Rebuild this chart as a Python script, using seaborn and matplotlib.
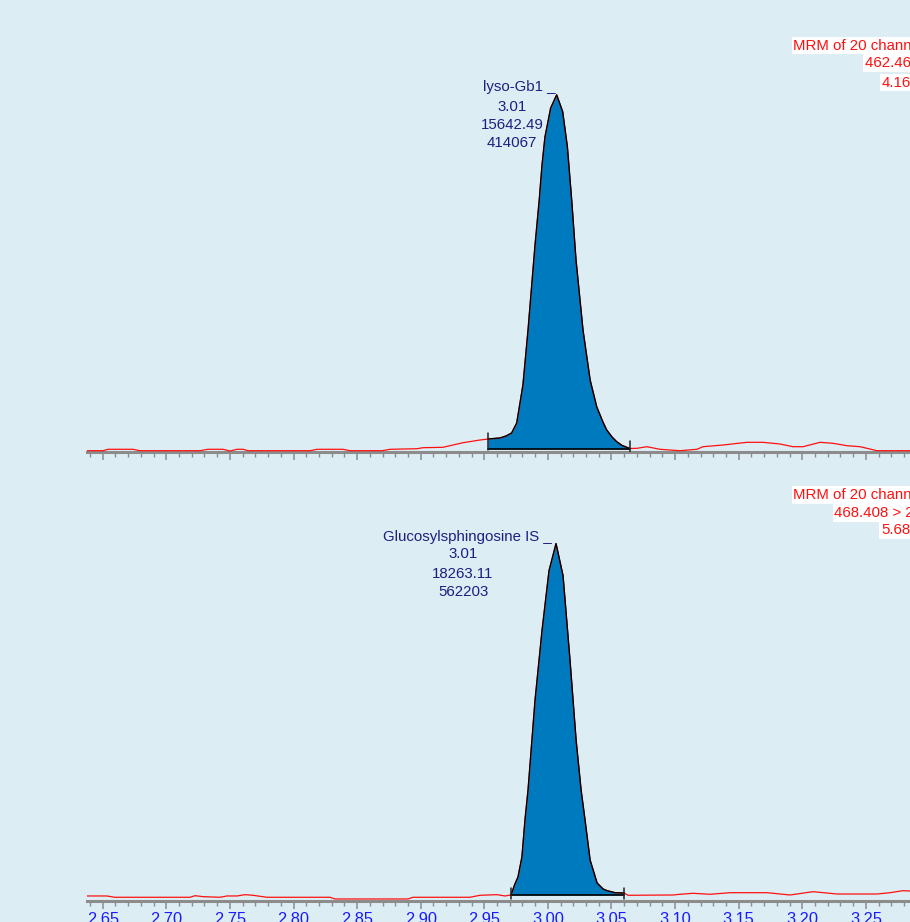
import numpy as np
import pandas as pd
import matplotlib
matplotlib.use("Agg")
import matplotlib.pyplot as plt
import seaborn as sns
from matplotlib.ticker import MultipleLocator, FixedLocator, FixedFormatter

sns.set_theme(style="white")
plt.rcParams['font.family'] = ['Liberation Sans', 'DejaVu Sans']

# ---------------- data (retention time in min, relative intensity in %) -------------
top_time = [2.6374, 2.6502, 2.6542, 2.6738, 2.6793, 2.7265, 2.7327, 2.7446, 2.7501,
            2.7556, 2.7604, 2.7643, 2.8130, 2.8185, 2.8389, 2.8444, 2.8696, 2.8759,
            2.8971, 2.9018, 2.9175, 2.9333, 2.9466,
            2.9529, 2.9623, 2.9671, 2.9715, 2.9755, 2.9804, 2.9844, 2.9899, 2.9932,
            2.9954, 2.9977, 3.0022, 3.0069, 3.0116, 3.0153, 3.0187, 3.0221, 3.0276,
            3.0332, 3.0384, 3.0433, 3.0462, 3.0504, 3.0541, 3.0583, 3.0620, 3.0645,
            3.0701, 3.0779, 3.0881, 3.1039, 3.1172, 3.1219, 3.1377, 3.1565, 3.1691,
            3.1825, 3.1927, 3.2006, 3.2140, 3.2242, 3.2352, 3.2455, 3.2588, 3.2847]
top_intensity = [-0.48, -0.48, -0.08, -0.08, -0.48, -0.48, -0.08, -0.08, -0.56,
                 -0.08, -0.08, -0.48, -0.48, -0.08, -0.08, -0.48, -0.48, -0.08,
                 0.08, 0.37, 0.48, 1.78, 2.54,
                 2.82, 3.11, 3.67, 4.52, 7.34, 18.1, 33.6, 57.6, 70.3,
                 80.2, 88.1, 96.3, 100.0, 95.3, 85.4, 70.3, 53.4, 33.6,
                 19.5, 11.9, 7.6, 5.4, 3.4, 2.06, 1.0, 0.48, 0.14,
                 0.2, 0.65, -0.08, -0.48, -0.08, 0.65, 1.13, 1.89, 1.89,
                 1.41, 0.65, 0.65, 1.89, 1.61, 0.93, 0.65, -0.48, -0.48]

bot_time = [2.6374, 2.6531, 2.6597, 2.7186, 2.7226, 2.7289, 2.7422, 2.7477, 2.7556,
            2.7619, 2.7682, 2.7792, 2.8287, 2.8326, 2.8900, 2.8939, 2.9387, 2.9466,
            2.9600, 2.9663,
            2.9710, 2.9741, 2.9765, 2.9796, 2.9820, 2.9844, 2.9899, 2.9954, 3.0009,
            3.0064, 3.0119, 3.0174, 3.0222, 3.0261, 3.0292, 3.0332, 3.0387, 3.0434,
            3.0465, 3.0528, 3.0599,
            3.0630, 3.0984, 3.1039, 3.1141, 3.1275, 3.1432, 3.1723, 3.1904, 3.2085,
            3.2273, 3.2588, 3.2690, 3.2792, 3.2847]
bot_intensity = [-0.28, -0.28, -0.65, -0.65, -0.20, -0.48, -0.65, -0.28, -0.28,
                 0.09, -0.09, -0.65, -0.65, -1.13, -1.13, -0.65, -0.65, -0.09,
                 0.09, -0.28,
                 0.0, 3.12, 5.1, 10.8, 21.3, 29.8, 55.3, 75.1, 92.1,
                 99.8, 90.7, 66.6, 43.9, 29.8, 21.3, 9.9, 3.4, 1.7,
                 1.22, 0.65, 0.57,
                 -0.09, 0.0, 0.2, 0.48, 0.2, 0.65, 0.65, 0.0, 0.94,
                 0.28, 0.28, 0.65, 1.22, 1.13]

peak_start = [2.9529, 2.9710]
peak_end = [3.0645, 3.0599]
peak_names = ["lyso-Gb1 _", "Glucosylsphingosine IS _"]
peak_rt = ["3.01", "3.01"]
peak_area = ["15642.49", "18263.11"]
peak_height = ["414067", "562203"]
header_line1 = ["MRM of 20 channels,ES+", "MRM of 20 channels,ES+"]
header_line2 = ["462.46 > 282.3", "468.408 > 282.3"]
header_line3 = ["4.16e5", "5.68e5"]
tick_values = [2.65, 2.70, 2.75, 2.80, 2.85, 2.90, 2.95, 3.00, 3.05, 3.10, 3.15, 3.20, 3.25]
tick_labels = ["2.65", "2.70", "2.75", "2.80", "2.85", "2.90", "2.95", "3.00",
               "3.05", "3.10", "3.15", "3.20", "3.25"]

# ---------------- style -------------
W, H = 910, 922
BG = '#dcedf3'
FILL = '#007abf'
RED = '#ff1010'
NAVY = '#1e1e82'
AXGREY = '#8c8c8c'
TICKBLUE = '#1a1aff'

fig = plt.figure(figsize=(W / 100, H / 100), dpi=100, facecolor=BG)

def px_axes(left, top, right, bottom):
    return fig.add_axes([left / W, 1 - bottom / H, (right - left) / W, (bottom - top) / H])

panels = [
    dict(ax=px_axes(86.7, 0, W, 451.7), t=top_time, y=top_intensity, ylim=(-0.76, 126.8),
         markers=[(-0.3, 4.5), (-0.85, 2.3)], labels=False),
    dict(ax=px_axes(86.7, 470, W, 900.9), t=bot_time, y=bot_intensity, ylim=(-1.68, 120.7),
         markers=[(-1.16, 2.07), (-1.16, 2.07)], labels=True),
]

for i, p in enumerate(panels):
    ax = p['ax']
    ax.set_facecolor(BG)
    df = pd.DataFrame({'time': p['t'], 'intensity': p['y']})
    t = df['time'].to_numpy()
    y = df['intensity'].to_numpy()
    mask = (t >= peak_start[i] - 1e-9) & (t <= peak_end[i] + 1e-9)
    ax.fill_between(t[mask], 0, y[mask], color=FILL, lw=0, zorder=2)
    sns.lineplot(data=df, x='time', y='intensity', ax=ax, color=RED, lw=0.9,
                 sort=False, estimator=None, zorder=3)
    ax.plot(t[mask], y[mask], color='black', lw=1.0, zorder=4)
    ax.plot([peak_start[i], peak_end[i]], [0, 0], color='black', lw=1.2, zorder=4)
    for xm, (y0, y1) in zip([peak_start[i], peak_end[i]], p['markers']):
        ax.plot([xm, xm], [y0, y1], color='#222222', lw=1.1, zorder=5)

    ax.set_xlim(2.6374, 3.2847)
    ax.set_ylim(*p['ylim'])
    ax.set_xlabel('')
    ax.set_ylabel('')
    ax.set_yticks([])
    for s in ['top', 'left', 'right']:
        ax.spines[s].set_visible(False)
    ax.spines['bottom'].set_color(AXGREY)
    ax.spines['bottom'].set_linewidth(2.2)
    ax.xaxis.set_major_locator(FixedLocator(tick_values))
    ax.xaxis.set_major_formatter(FixedFormatter(tick_labels))
    ax.xaxis.set_minor_locator(MultipleLocator(0.01))
    ax.tick_params(axis='x', which='major', length=6, width=1.1, color=AXGREY,
                   direction='out', labelsize=11.8, labelcolor=TICKBLUE, pad=2.2,
                   labelbottom=p['labels'], bottom=True)
    ax.tick_params(axis='x', which='minor', length=3.3, width=1.0, color=AXGREY,
                   direction='out', bottom=True)

def ftext(x, y, s, **kw):
    fig.text(x / W, 1 - y / H, s, va='baseline', **kw)

# peak annotations
label_pos = [(482.7, 512, [91, 110.7, 129.3, 147.3]),
             (383.3, 463, [541.5, 558.5, 577.5, 596])]
for i, (x1, xc, ys) in enumerate(label_pos):
    ftext(x1, ys[0], peak_names[i], ha='left', color=NAVY, fontsize=10.8)
    ftext(xc, ys[1], peak_rt[i], ha='center', color=NAVY, fontsize=10.8)
    ftext(xc, ys[2], peak_area[i], ha='center', color=NAVY, fontsize=10.8)
    ftext(xc, ys[3], peak_height[i], ha='center', color=NAVY, fontsize=10.8)

# red headers (clipped by figure edge, as in the original screenshot)
hdr = [[(793.3, 49.5), (865, 67.3), (881.7, 86.7)],
       [(793.3, 499), (834.3, 517.3), (881, 534)]]
for i in range(2):
    for (x, y), s in zip(hdr[i], [header_line1[i], header_line2[i], header_line3[i]]):
        ftext(x, y, s, ha='left', color=RED, fontsize=10.8,
              bbox=dict(boxstyle='square,pad=0.12', fc='white', ec='none'))

fig.savefig('out.png', dpi=100, facecolor=BG)
